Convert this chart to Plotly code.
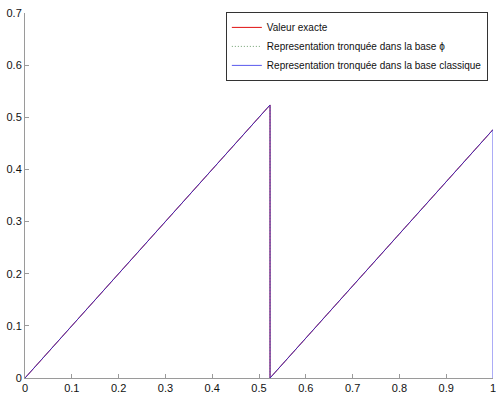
import plotly.graph_objects as go

# Sawtooth: x mod (pi/6) sampled at its corner points
x_exact = [0.0, 0.5236, 0.5236, 1.0]
y_exact = [0.0, 0.5236, 0.0, 0.4764]

x_phi = [0.0, 0.5236, 0.5236, 1.0]
y_phi = [0.0, 0.5236, 0.0, 0.4764]

# the classic truncated representation falls back to 0 at the right end
x_classic = [0.0, 0.5236, 0.5236, 1.0, 1.0]
y_classic = [0.0, 0.5236, 0.0, 0.4764, 0.0]

x_ticks = [0, 0.1, 0.2, 0.3, 0.4, 0.5, 0.6, 0.7, 0.8, 0.9, 1]
x_ticktext = ["0", "0.1", "0.2", "0.3", "0.4", "0.5", "0.6", "0.7", "0.8", "0.9", "1"]
y_ticks = [0, 0.1, 0.2, 0.3, 0.4, 0.5, 0.6, 0.7]
y_ticktext = ["0", "0.1", "0.2", "0.3", "0.4", "0.5", "0.6", "0.7"]

names = [
    "Valeur exacte",
    "Representation tronquée dans la base \u03d5",
    "Representation tronquée dans la base classique",
]

fig = go.Figure()
fig.add_trace(go.Scatter(x=x_exact, y=y_exact, mode="lines", name=names[0],
                         line=dict(color="#e01010", width=1)))
fig.add_trace(go.Scatter(x=x_phi, y=y_phi, mode="lines", name=names[1],
                         line=dict(color="#70a070", width=1, dash="1px,2px")))
fig.add_trace(go.Scatter(x=x_classic, y=y_classic, mode="lines", name=names[2],
                         line=dict(color="#1a1ae6", width=1), opacity=0.72))

axis_common = dict(
    showgrid=False, zeroline=False, showline=True, linecolor="#9a9a9a", linewidth=1,
    ticks="inside", ticklen=4, tickcolor="#9a9a9a", mirror=False,
    ticklabeloverflow="allow", automargin=False,
    tickfont=dict(family="Liberation Sans, Arial, sans-serif", size=11, color="#111111"),
)

fig.update_layout(
    width=496, height=399,
    margin=dict(l=25, r=3, t=13, b=21),
    paper_bgcolor="white", plot_bgcolor="white",
    xaxis=dict(range=[0, 1], tickmode="array", tickvals=x_ticks, ticktext=x_ticktext,
               **axis_common),
    yaxis=dict(range=[0, 0.7], tickmode="array", tickvals=y_ticks, ticktext=y_ticktext,
               **axis_common),
    legend=dict(
        x=0.989, y=1.003, xanchor="right", yanchor="top",
        bgcolor="white", bordercolor="#333333", borderwidth=1,
        font=dict(family="Liberation Sans, Arial, sans-serif", size=10, color="#111111"),
        tracegroupgap=0, itemwidth=30,
    ),
    showlegend=True,
)

fig.write_html("out.html")
